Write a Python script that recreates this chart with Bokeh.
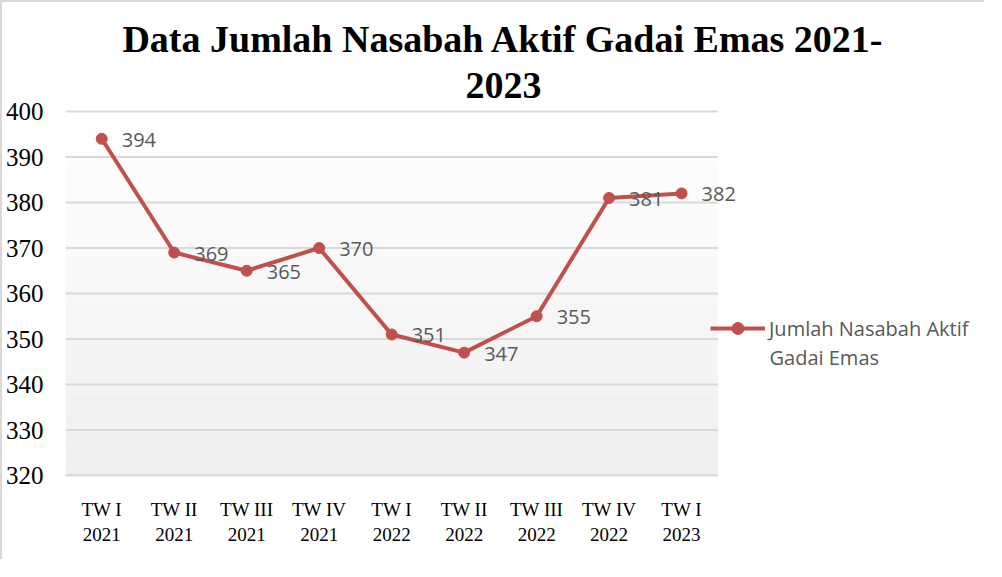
from bokeh.plotting import figure
from bokeh.models import (ColumnDataSource, Range1d, LabelSet, Label,
                          Legend, LegendItem, BoxAnnotation, FixedTicker)
from bokeh.embed import file_html
from bokeh.resources import INLINE
from bokeh.core.properties import value

quarters = ["TW I", "TW II", "TW III", "TW IV", "TW I", "TW II", "TW III", "TW IV", "TW I"]
years = ["2021", "2021", "2021", "2021", "2022", "2022", "2022", "2022", "2023"]
values = [394, 369, 365, 370, 351, 347, 355, 381, 382]
y_ticks = [320, 330, 340, 350, 360, 370, 380, 390, 400]
series_name_lines = ["Jumlah Nasabah Aktif", "Gadai Emas"]
title_lines = ["Data Jumlah Nasabah Aktif Gadai Emas 2021-", "2023"]

n = len(values)
categories = [q + "\n" + y for q, y in zip(quarters, years)]
xpos = [i + 0.5 for i in range(n)]          # category centres on the axis scale
src = ColumnDataSource(dict(x=xpos, val=values, lab=[str(v) for v in values]))

# layout (pixels)
W, H = 984, 559
left_b, bottom_b = 62, 86
cat_px = 72.56                     # width of one category
plot_h = 364.0                     # height of 320..400 band
frame_w = W - left_b
frame_h = H - bottom_b
y_min, y_max = y_ticks[0], y_ticks[-1]
y_top = y_max + (frame_h - plot_h) * (y_max - y_min) / plot_h

p = figure(width=W, height=H, x_range=Range1d(0, frame_w / cat_px),
           y_range=Range1d(y_min, y_top), output_backend="svg", toolbar_location=None,
           min_border_left=left_b, min_border_right=0, min_border_top=0,
           min_border_bottom=bottom_b)
p.styles = {"border-left": "2px solid #d9d9d9", "border-top": "2px solid #d9d9d9"}
p.outline_line_color = None
p.background_fill_color = "white"
p.border_fill_color = "white"

# gradient background of plot area
nb = 40
for i in range(nb):
    lo = y_min + (y_max - y_min) * i / nb
    hi = y_min + (y_max - y_min) * (i + 1) / nb
    t = (i + 0.5) / nb
    c = int(round(239 + (255 - 239) * t))
    p.add_layout(BoxAnnotation(left=0, right=n, bottom=lo, top=hi, fill_color=(c, c, c),
                               fill_alpha=1, line_color=None, level="image"))

# horizontal gridlines limited to the plot area
p.xgrid.grid_line_color = None
p.ygrid.grid_line_color = None
p.segment(x0=[0] * len(y_ticks), x1=[n] * len(y_ticks), y0=y_ticks, y1=y_ticks,
          line_color="#d9d9d9", line_width=2, level="underlay")

p.yaxis.ticker = FixedTicker(ticks=y_ticks)
p.yaxis.axis_line_color = None
p.yaxis.major_tick_line_color = None
p.yaxis.minor_tick_line_color = None
p.yaxis.major_label_text_font = "Liberation Serif"
p.yaxis.major_label_text_font_size = "25px"
p.yaxis.major_label_text_color = "black"
p.yaxis.major_label_standoff = 16

p.xaxis.ticker = FixedTicker(ticks=xpos)
p.xaxis.major_label_overrides = {x: c for x, c in zip(xpos, categories)}
p.xaxis.bounds = (0, n)
p.xaxis.axis_line_color = "#d9d9d9"
p.xaxis.axis_line_width = 2
p.xaxis.major_tick_line_color = None
p.xaxis.minor_tick_line_color = None
p.xaxis.major_label_text_font = "Liberation Serif"
p.xaxis.major_label_text_font_size = "19px"
p.xaxis.major_label_text_color = "black"
p.xaxis.major_label_standoff = 17

color = "#C0504D"
ln = p.line(x="x", y="val", source=src, line_color=color, line_width=4)
sc = p.scatter(x="x", y="val", source=src, size=11, fill_color=color, line_color=color)

labels = LabelSet(x="x", y="val", text="lab", source=src, x_offset=20, y_offset=-1,
                  text_align="left", text_baseline="middle", text_font=value("Open Sans"),
                  text_font_size="20px", text_color="#595959")
p.add_layout(labels)

legend = Legend(items=[LegendItem(label=series_name_lines[0], renderers=[ln, sc])],
                location=(645, 132), glyph_width=55, glyph_height=30, label_height=30,
                label_standoff=4, padding=0, margin=0,
                border_line_color=None, background_fill_alpha=0,
                label_text_font="Open Sans", label_text_font_size="20px",
                label_text_color="#595959")
p.add_layout(legend)
p.add_layout(Label(x=704, y=118, x_units="screen", y_units="screen", text=series_name_lines[1],
                   text_align="left", text_baseline="middle", text_font="Open Sans",
                   text_font_size="20px", text_color="#595959"))

p.add_layout(Label(x=438, y=437, x_units="screen", y_units="screen", text=title_lines[0],
                   text_align="center", text_baseline="middle", text_font="Liberation Serif",
                   text_font_size="38px", text_font_style="bold", text_color="black"))
p.add_layout(Label(x=438, y=390, x_units="screen", y_units="screen", text=title_lines[1],
                   text_align="center", text_baseline="middle", text_font="Liberation Serif",
                   text_font_size="38px", text_font_style="bold", text_color="black"))

open("out.html", "w").write(file_html(p, INLINE))
